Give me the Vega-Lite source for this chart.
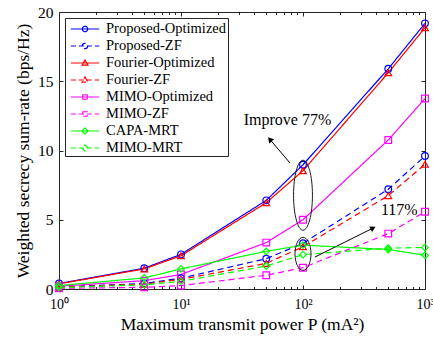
{
  "$schema": "https://vega.github.io/schema/vega-lite/v6.json",
  "width": 366,
  "height": 277,
  "autosize": {"type": "none"},
  "padding": {"left": 59, "top": 12, "right": 8, "bottom": 48},
  "background": "white",
  "config": {
    "view": {"stroke": "#262626", "strokeWidth": 1},
    "font": "Liberation Serif",
    "axis": {
      "labelFont": "Liberation Serif",
      "titleFont": "Liberation Serif",
      "labelColor": "#000",
      "titleColor": "#000",
      "titleFontWeight": "normal",
      "grid": false,
      "domain": false,
      "tickColor": "#262626",
      "tickWidth": 1
    },
    "legend": {
      "labelFont": "Liberation Serif",
      "labelColor": "#000",
      "strokeColor": "#262626",
      "fillColor": "white"
    }
  },
  "datasets": {
    "rates": [
      {"P": 1, "series": "Proposed-Optimized", "rate": 0.4},
      {"P": 5, "series": "Proposed-Optimized", "rate": 1.5},
      {"P": 10, "series": "Proposed-Optimized", "rate": 2.5},
      {"P": 50, "series": "Proposed-Optimized", "rate": 6.4},
      {"P": 100, "series": "Proposed-Optimized", "rate": 8.97},
      {"P": 500, "series": "Proposed-Optimized", "rate": 15.9},
      {"P": 1000, "series": "Proposed-Optimized", "rate": 19.18},
      {"P": 1, "series": "Proposed-ZF", "rate": 0.15},
      {"P": 5, "series": "Proposed-ZF", "rate": 0.4},
      {"P": 10, "series": "Proposed-ZF", "rate": 0.78},
      {"P": 50, "series": "Proposed-ZF", "rate": 2.19},
      {"P": 100, "series": "Proposed-ZF", "rate": 3.3},
      {"P": 500, "series": "Proposed-ZF", "rate": 7.2},
      {"P": 1000, "series": "Proposed-ZF", "rate": 9.6},
      {"P": 1, "series": "Fourier-Optimized", "rate": 0.37},
      {"P": 5, "series": "Fourier-Optimized", "rate": 1.45},
      {"P": 10, "series": "Fourier-Optimized", "rate": 2.4},
      {"P": 50, "series": "Fourier-Optimized", "rate": 6.23},
      {"P": 100, "series": "Fourier-Optimized", "rate": 8.54},
      {"P": 500, "series": "Fourier-Optimized", "rate": 15.61},
      {"P": 1000, "series": "Fourier-Optimized", "rate": 18.86},
      {"P": 1, "series": "Fourier-ZF", "rate": 0.13},
      {"P": 5, "series": "Fourier-ZF", "rate": 0.35},
      {"P": 10, "series": "Fourier-ZF", "rate": 0.7},
      {"P": 50, "series": "Fourier-ZF", "rate": 1.85},
      {"P": 100, "series": "Fourier-ZF", "rate": 3.05},
      {"P": 500, "series": "Fourier-ZF", "rate": 6.74},
      {"P": 1000, "series": "Fourier-ZF", "rate": 9.0},
      {"P": 1, "series": "MIMO-Optimized", "rate": 0.2},
      {"P": 5, "series": "MIMO-Optimized", "rate": 0.6},
      {"P": 10, "series": "MIMO-Optimized", "rate": 1.05},
      {"P": 50, "series": "MIMO-Optimized", "rate": 3.35},
      {"P": 100, "series": "MIMO-Optimized", "rate": 5.0},
      {"P": 500, "series": "MIMO-Optimized", "rate": 10.76},
      {"P": 1000, "series": "MIMO-Optimized", "rate": 13.75},
      {"P": 1, "series": "MIMO-ZF", "rate": 0.05},
      {"P": 5, "series": "MIMO-ZF", "rate": 0.12},
      {"P": 10, "series": "MIMO-ZF", "rate": 0.25},
      {"P": 50, "series": "MIMO-ZF", "rate": 0.99},
      {"P": 100, "series": "MIMO-ZF", "rate": 1.54},
      {"P": 500, "series": "MIMO-ZF", "rate": 4.0},
      {"P": 1000, "series": "MIMO-ZF", "rate": 5.58},
      {"P": 1, "series": "CAPA-MRT", "rate": 0.25},
      {"P": 5, "series": "CAPA-MRT", "rate": 0.8},
      {"P": 10, "series": "CAPA-MRT", "rate": 1.45},
      {"P": 50, "series": "CAPA-MRT", "rate": 2.72},
      {"P": 100, "series": "CAPA-MRT", "rate": 3.17},
      {"P": 500, "series": "CAPA-MRT", "rate": 2.85},
      {"P": 1000, "series": "CAPA-MRT", "rate": 2.44},
      {"P": 1, "series": "MIMO-MRT", "rate": 0.1},
      {"P": 5, "series": "MIMO-MRT", "rate": 0.3},
      {"P": 10, "series": "MIMO-MRT", "rate": 0.55},
      {"P": 50, "series": "MIMO-MRT", "rate": 1.66},
      {"P": 100, "series": "MIMO-MRT", "rate": 2.48},
      {"P": 500, "series": "MIMO-MRT", "rate": 2.95},
      {"P": 1000, "series": "MIMO-MRT", "rate": 3.0}
    ]
  },
  "resolve": {
    "scale": {"color": "independent", "strokeDash": "independent", "shape": "independent"},
    "axis": {"x": "independent", "y": "independent"}
  },
  "layer": [
    {
      "data": {"name": "rates"},
      "mark": {"type": "line", "strokeWidth": 1.2},
      "encoding": {
        "x": {
          "field": "P", "type": "quantitative",
          "scale": {"type": "log", "domain": [1, 1000]},
          "axis": {
            "orient": "bottom",
            "title": "Maximum transmit power P (mA²)",
            "titleFontSize": 17.5,
            "titlePadding": 4,
            "labelFontSize": 14,
            "labelPadding": 12,
            "labelFlush": false,
            "labelExpr": "datum.value == 1 ? '10⁰' : datum.value == 10 ? '10¹' : datum.value == 100 ? '10²' : datum.value == 1000 ? '10³' : ''",
            "tickSize": {"condition": {"test": "datum.value == 1 || datum.value == 10 || datum.value == 100 || datum.value == 1000", "value": -4}, "value": -2.5}
          }
        },
        "y": {
          "field": "rate", "type": "quantitative",
          "scale": {"domain": [0, 20]},
          "axis": {
            "orient": "left",
            "values": [0, 5, 10, 15, 20],
            "title": "Weighted secrecy sum-rate (bps/Hz)",
            "titleFontSize": 17.5,
            "titlePadding": 5,
            "labelFontSize": 15.5,
            "labelPadding": 10,
            "tickSize": -4
          }
        },
        "color": {
          "field": "series", "type": "nominal",
          "scale": {
            "domain": ["Proposed-Optimized", "Proposed-ZF", "Fourier-Optimized", "Fourier-ZF", "MIMO-Optimized", "MIMO-ZF", "CAPA-MRT", "MIMO-MRT"],
            "range": ["#0000ff", "#0000ff", "#ff0000", "#ff0000", "#ff00ff", "#ff00ff", "#00ff00", "#00ff00"]
          },
          "legend": null
        },
        "strokeDash": {
          "field": "series", "type": "nominal",
          "scale": {
            "domain": ["Proposed-Optimized", "Proposed-ZF", "Fourier-Optimized", "Fourier-ZF", "MIMO-Optimized", "MIMO-ZF", "CAPA-MRT", "MIMO-MRT"],
            "range": [[1, 0], [6, 4], [1, 0], [6, 4], [1, 0], [6, 4], [1, 0], [6, 4]]
          },
          "legend": null
        }
      }
    },
    {
      "data": {"name": "rates"},
      "mark": {"type": "point", "filled": false, "size": 45, "strokeWidth": 1.2, "opacity": 1},
      "encoding": {
        "x": {"field": "P", "type": "quantitative", "scale": {"type": "log", "domain": [1, 1000]}, "axis": null},
        "y": {"field": "rate", "type": "quantitative", "scale": {"domain": [0, 20]}, "axis": null},
        "color": {
          "field": "series", "type": "nominal",
          "scale": {
            "domain": ["Proposed-Optimized", "Proposed-ZF", "Fourier-Optimized", "Fourier-ZF", "MIMO-Optimized", "MIMO-ZF", "CAPA-MRT", "MIMO-MRT"],
            "range": ["#0000ff", "#0000ff", "#ff0000", "#ff0000", "#ff00ff", "#ff00ff", "#00ff00", "#00ff00"]
          },
          "legend": null
        },
        "shape": {
          "field": "series", "type": "nominal",
          "scale": {
            "domain": ["Proposed-Optimized", "Proposed-ZF", "Fourier-Optimized", "Fourier-ZF", "MIMO-Optimized", "MIMO-ZF", "CAPA-MRT", "MIMO-MRT"],
            "range": ["circle", "circle", "triangle-up", "triangle-up", "square", "square", "diamond", "diamond"]
          },
          "legend": null
        }
      }
    },
    {
      "data": {"name": "rates"},
      "transform": [{"filter": "datum.P < 0"}],
      "mark": {"type": "point", "filled": false, "size": 324, "strokeWidth": 1.2, "opacity": 1},
      "encoding": {
        "x": {
          "field": "P", "type": "quantitative", "scale": {"type": "log", "domain": [1, 1000]},
          "axis": {"orient": "top", "labels": false, "title": null, "tickSize": {"condition": {"test": "datum.value == 1 || datum.value == 10 || datum.value == 100 || datum.value == 1000", "value": -4}, "value": -2.5}}
        },
        "y": {
          "field": "rate", "type": "quantitative", "scale": {"domain": [0, 20]},
          "axis": {"orient": "right", "labels": false, "title": null, "values": [0, 5, 10, 15, 20], "tickSize": -4}
        },
        "color": {
          "field": "series", "type": "nominal",
          "scale": {
            "domain": ["Proposed-Optimized", "Proposed-ZF", "Fourier-Optimized", "Fourier-ZF", "MIMO-Optimized", "MIMO-ZF", "CAPA-MRT", "MIMO-MRT"],
            "range": ["#0000ff", "#0000ff", "#ff0000", "#ff0000", "#ff00ff", "#ff00ff", "#00ff00", "#00ff00"]
          },
          "legend": {"title": null, "orient": "none", "legendX": 6, "legendY": 6, "labelFontSize": 14.5, "symbolSize": 324, "symbolStrokeWidth": 1.2, "symbolOffset": 9, "rowPadding": -5.3, "labelOffset": 11, "padding": 1}
        },
        "strokeDash": {
          "field": "series", "type": "nominal",
          "scale": {
            "domain": ["Proposed-Optimized", "Proposed-ZF", "Fourier-Optimized", "Fourier-ZF", "MIMO-Optimized", "MIMO-ZF", "CAPA-MRT", "MIMO-MRT"],
            "range": [[1, 0], [5, 3], [1, 0], [5, 3], [1, 0], [5, 3], [1, 0], [5, 3]]
          },
          "legend": {"title": null, "orient": "none", "legendX": 6, "legendY": 6, "labelFontSize": 14.5, "symbolSize": 324, "symbolStrokeWidth": 1.2, "symbolOffset": 9, "rowPadding": -5.3, "labelOffset": 11, "padding": 1}
        },
        "shape": {
          "field": "series", "type": "nominal",
          "scale": {
            "domain": ["Proposed-Optimized", "Proposed-ZF", "Fourier-Optimized", "Fourier-ZF", "MIMO-Optimized", "MIMO-ZF", "CAPA-MRT", "MIMO-MRT"],
            "range": [
              "M-1.57,0L1.57,0M0.3,0C0.3,0.166 0.166,0.3 0,0.3C-0.166,0.3 -0.3,0.166 -0.3,0C-0.3,-0.166 -0.166,-0.3 0,-0.3C0.166,-0.3 0.3,-0.166 0.3,0Z",
              "M-1.57,0L1.57,0M0.3,0C0.3,0.166 0.166,0.3 0,0.3C-0.166,0.3 -0.3,0.166 -0.3,0C-0.3,-0.166 -0.166,-0.3 0,-0.3C0.166,-0.3 0.3,-0.166 0.3,0Z",
              "M-1.57,0L1.57,0M0,-0.33L0.33,0.24L-0.33,0.24Z",
              "M-1.57,0L1.57,0M0,-0.33L0.33,0.24L-0.33,0.24Z",
              "M-1.57,0L1.57,0M-0.25,-0.25L0.25,-0.25L0.25,0.25L-0.25,0.25Z",
              "M-1.57,0L1.57,0M-0.25,-0.25L0.25,-0.25L0.25,0.25L-0.25,0.25Z",
              "M-1.57,0L1.57,0M0,-0.35L0.33,0L0,0.35L-0.33,0Z",
              "M-1.57,0L1.57,0M0,-0.35L0.33,0L0,0.35L-0.33,0Z"
            ]
          },
          "legend": {"title": null, "orient": "none", "legendX": 6, "legendY": 6, "labelFontSize": 14.5, "symbolSize": 324, "symbolStrokeWidth": 1.2, "symbolOffset": 9, "rowPadding": -5.3, "labelOffset": 11, "padding": 1}
        }
      }
    },
    {
      "data": {"values": [{"x": 100, "y": 6.77}]},
      "mark": {"type": "point", "filled": false, "opacity": 1, "stroke": "#1a1a1a", "strokeWidth": 1, "size": 4900,
        "shape": "M0,-1C0.149,-1 0.27,-0.552 0.27,0C0.27,0.552 0.149,1 0,1C-0.149,1 -0.27,0.552 -0.27,0C-0.27,-0.552 -0.149,-1 0,-1Z"},
      "encoding": {
        "x": {"field": "x", "type": "quantitative", "scale": {"type": "log", "domain": [1, 1000]}, "axis": null},
        "y": {"field": "y", "type": "quantitative", "scale": {"domain": [0, 20]}, "axis": null}
      }
    },
    {
      "data": {"values": [{"x": 100, "y": 2.54}]},
      "mark": {"type": "point", "filled": false, "opacity": 1, "stroke": "#1a1a1a", "strokeWidth": 1, "size": 1089,
        "shape": "M0,-1C0.268,-1 0.485,-0.552 0.485,0C0.485,0.552 0.268,1 0,1C-0.268,1 -0.485,0.552 -0.485,0C-0.485,-0.552 -0.268,-1 0,-1Z"},
      "encoding": {
        "x": {"field": "x", "type": "quantitative", "scale": {"type": "log", "domain": [1, 1000]}, "axis": null},
        "y": {"field": "y", "type": "quantitative", "scale": {"domain": [0, 20]}, "axis": null}
      }
    },
    {
      "data": {"values": [
        {"x": 78.2, "y": 9.1, "x2": 53.5, "y2": 10.81},
        {"x": 125.4, "y": 2.31, "x2": 375.5, "y2": 4.4}
      ]},
      "mark": {"type": "rule", "color": "#000", "strokeWidth": 1},
      "encoding": {
        "x": {"field": "x", "type": "quantitative", "scale": {"type": "log", "domain": [1, 1000]}, "axis": null},
        "y": {"field": "y", "type": "quantitative", "scale": {"domain": [0, 20]}, "axis": null},
        "x2": {"field": "x2"},
        "y2": {"field": "y2"}
      }
    },
    {
      "data": {"values": [{"x": 53.5, "y": 10.81}]},
      "mark": {"type": "point", "shape": "triangle-up", "filled": true, "color": "#000", "opacity": 1, "size": 40, "angle": 319.5},
      "encoding": {
        "x": {"field": "x", "type": "quantitative", "scale": {"type": "log", "domain": [1, 1000]}, "axis": null},
        "y": {"field": "y", "type": "quantitative", "scale": {"domain": [0, 20]}, "axis": null}
      }
    },
    {
      "data": {"values": [{"x": 375.5, "y": 4.4}]},
      "mark": {"type": "point", "shape": "triangle-up", "filled": true, "color": "#000", "opacity": 1, "size": 40, "angle": 63.5},
      "encoding": {
        "x": {"field": "x", "type": "quantitative", "scale": {"type": "log", "domain": [1, 1000]}, "axis": null},
        "y": {"field": "y", "type": "quantitative", "scale": {"domain": [0, 20]}, "axis": null}
      }
    },
    {
      "data": {"values": [
        {"x": 74.6, "y": 12.2, "label": "Improve 77%"},
        {"x": 615, "y": 5.68, "label": "117%"}
      ]},
      "mark": {"type": "text", "font": "Liberation Serif", "fontSize": 16, "color": "#000", "align": "center", "baseline": "middle"},
      "encoding": {
        "x": {"field": "x", "type": "quantitative", "scale": {"type": "log", "domain": [1, 1000]}, "axis": null},
        "y": {"field": "y", "type": "quantitative", "scale": {"domain": [0, 20]}, "axis": null},
        "text": {"field": "label"}
      }
    }
  ]
}
